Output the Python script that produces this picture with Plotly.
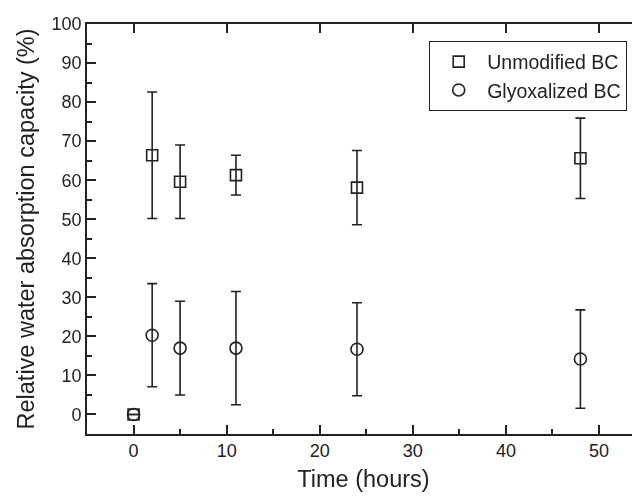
import plotly.graph_objects as go

time_h = [0, 2, 5, 11, 24, 48]
unmod_mean = [0, 66.4, 59.6, 61.3, 58.1, 65.6]
unmod_err = [0, 16.2, 9.4, 5.1, 9.5, 10.3]
glyox_mean = [0, 20.3, 17.0, 17.0, 16.7, 14.2]
glyox_err = [0, 13.2, 12.0, 14.5, 11.9, 12.6]

ink = "#222222"
font = "Liberation Sans, Arial, sans-serif"
x_range = [-5, 54.4]
y_range = [-5, 100]

fig = go.Figure()
fig.add_trace(go.Scatter(
    x=time_h, y=unmod_mean, mode="markers", name="Unmodified BC",
    marker=dict(symbol="square-open", size=11, color=ink, line=dict(width=1.6, color=ink)),
    error_y=dict(type="data", array=unmod_err, color=ink, thickness=1.6, width=5),
))
fig.add_trace(go.Scatter(
    x=time_h, y=glyox_mean, mode="markers", name="Glyoxalized BC",
    marker=dict(symbol="circle-open", size=12, color=ink, line=dict(width=1.6, color=ink)),
    error_y=dict(type="data", array=glyox_err, color=ink, thickness=1.6, width=5),
))
# invisible helper so the top / right frame axes are drawn
fig.add_trace(go.Scatter(
    x=time_h, y=unmod_mean, xaxis="x2", yaxis="y2", mode="markers", opacity=0,
    showlegend=False, hoverinfo="skip",
))

major = dict(ticks="inside", tickcolor=ink, tickwidth=1.6, ticklen=9)
minor = dict(minor=dict(ticks="inside", ticklen=5, tickcolor=ink, tickwidth=1.6, dtick=5))
common = dict(showgrid=False, zeroline=False, dtick=10, tick0=0)

fig.update_layout(
    width=632, height=489,
    margin=dict(l=79, r=0, t=16, b=63),
    paper_bgcolor="white", plot_bgcolor="white",
    font=dict(family=font, color=ink),
    xaxis=dict(range=x_range, showline=True, linecolor=ink, linewidth=1.6,
               tickfont=dict(family=font, size=18, color=ink),
               title=dict(text="Time (hours)", font=dict(family=font, size=23.5, color=ink), standoff=10),
               **common, **major, **minor),
    xaxis2=dict(range=x_range, overlaying="x", side="top", showline=True, linecolor=ink,
                linewidth=1.6, showticklabels=False, **common, **major),
    yaxis=dict(range=y_range, showline=True, linecolor=ink, linewidth=1.6,
               tickfont=dict(family=font, size=18, color=ink),
               title=dict(text="Relative water absorption capacity (%)", font=dict(family=font, size=23.5, color=ink), standoff=10),
               **common, **major, **minor),
    yaxis2=dict(range=y_range, overlaying="y", side="right", showline=False,
                showticklabels=False, ticks="inside", tickcolor=ink, tickwidth=1.6, ticklen=3,
                **common),
    legend=dict(x=0.9765, y=0.958, xanchor="right", yanchor="top",
                bordercolor=ink, borderwidth=1.2, bgcolor="white", itemwidth=47,
                font=dict(family=font, size=19.5, color=ink)),
    showlegend=True,
)

fig.write_html("out.html")
